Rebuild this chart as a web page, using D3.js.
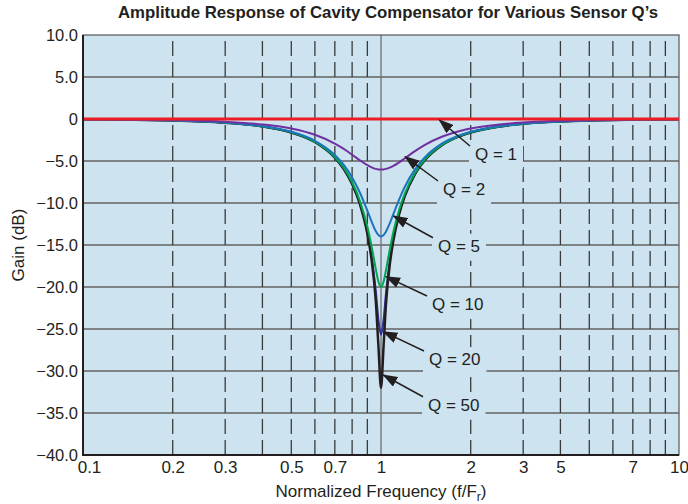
<!DOCTYPE html>
<html>
<head>
<meta charset="utf-8">
<script src="https://cdnjs.cloudflare.com/ajax/libs/d3/7.8.5/d3.min.js"></script>
<style>
    body { margin: 0; background: #fff; }
    svg { display: block; font-family: "Liberation Sans", Arial, sans-serif; }
</style>
</head>
<body>
<div id="chart"></div>
<script>
(function () {
    'use strict';

    // normalized frequency f/Fr at which the curves were read
    var freqs = [0.1, 0.2, 0.3, 0.4, 0.5, 0.6, 0.7, 0.75, 0.8, 0.85, 0.9, 0.93, 0.96, 0.98, 1,
        1.02, 1.04, 1.07, 1.1, 1.15, 1.2, 1.3, 1.4, 1.6, 1.8, 2, 2.5, 3, 4, 5, 7, 10];

    // gain (dB) for each sensor Q
    var gainQ1 = [0, 0, 0, 0, 0, 0, 0, 0, 0, 0, 0, 0, 0, 0, 0,
        0, 0, 0, 0, 0, 0, 0, 0, 0, 0, 0, 0, 0, 0, 0, 0, 0];
    var gainQ2 = [-0.03, -0.14, -0.33, -0.65, -1.14, -1.88, -2.92, -3.56, -4.25, -4.92, -5.50, -5.76, -5.94, -6.00, -6.02,
        -6.00, -5.94, -5.79, -5.59, -5.16, -4.70, -3.82, -3.10, -2.11, -1.51, -1.14, -0.65, -0.42, -0.22, -0.14, -0.07, -0.03];
    var gainQ5 = [-0.04, -0.18, -0.43, -0.85, -1.52, -2.59, -4.28, -5.47, -6.95, -8.78, -10.92, -12.23, -13.34, -13.81, -13.98,
        -13.82, -13.38, -12.42, -11.32, -9.59, -8.13, -6.00, -4.60, -2.94, -2.05, -1.52, -0.85, -0.55, -0.29, -0.18, -0.09, -0.04];
    var gainQ10 = [-0.04, -0.18, -0.44, -0.88, -1.58, -2.70, -4.52, -5.83, -7.53, -9.77, -12.82, -15.16, -17.81, -19.35, -20.0,
        -19.37, -17.94, -15.56, -13.49, -10.85, -8.95, -6.43, -4.86, -3.08, -2.14, -1.58, -0.88, -0.57, -0.30, -0.18, -0.09, -0.04];
    var gainQ20 = [-0.04, -0.18, -0.45, -0.89, -1.59, -2.73, -4.58, -5.92, -7.68, -10.06, -13.46, -16.36, -20.41, -23.85, -25.7,
        -23.91, -20.65, -16.89, -14.25, -11.24, -9.18, -6.54, -4.93, -3.11, -2.16, -1.59, -0.89, -0.57, -0.30, -0.18, -0.09, -0.04];
    var gainQ50 = [-0.04, -0.18, -0.45, -0.89, -1.60, -2.74, -4.60, -5.95, -7.73, -10.15, -13.66, -16.77, -21.54, -26.93, -32.0,
        -27.07, -21.86, -17.35, -14.49, -11.35, -9.25, -6.57, -4.95, -3.12, -2.16, -1.60, -0.89, -0.57, -0.30, -0.18, -0.09, -0.04];

    // axes
    var xTickVals = [0.1, 0.2, 0.3, 0.5, 0.7, 1, 2, 3, 4, 7, 10];
    var xTickLabels = ['0.1', '0.2', '0.3', '0.5', '0.7', '1', '2', '3', '5', '7', '10'];
    var xGridVals = [0.2, 0.3, 0.4, 0.5, 0.6, 0.7, 0.8, 0.9, 2, 3, 4, 5, 6, 7, 8, 9];
    var yTickVals = [10, 5, 0, -5, -10, -15, -20, -25, -30, -35, -40];

    // annotations (tip and text anchor in data units)
    var annoText = ['Q = 1', 'Q = 2', 'Q = 5', 'Q = 10', 'Q = 20', 'Q = 50'];
    var annoTipF = [1.569, 1.204, 1.101, 1.039, 1.018, 1.018];
    var annoTipDb = [-0.12, -4.49, -11.55, -18.77, -25.32, -30.48];
    var annoTextF = [2.067, 1.615, 1.553, 1.483, 1.449, 1.438];
    var annoTextDb = [-4.88, -9.05, -15.8, -22.74, -29.29, -34.73];

    var width = 688,
        height = 504,
        margin = {
            top: 35,
            right: 9,
            bottom: 49,
            left: 83
        },
        bg = '#cde3f0',
        ink = '#231f20';

    var svg = d3.select('#chart')
        .append('svg')
        .attr('width', width)
        .attr('height', height);

    var x = d3.scaleLog()
        .domain([0.1, 10])
        .range([margin.left, width - margin.right]);

    var y = d3.scaleLinear()
        .domain([-40, 10])
        .range([height - margin.bottom, margin.top]);

    svg.append('defs').append('marker')
        .attr('id', 'arrow')
        .attr('markerUnits', 'userSpaceOnUse')
        .attr('markerWidth', 15)
        .attr('markerHeight', 11)
        .attr('refX', 14)
        .attr('refY', 5.5)
        .attr('orient', 'auto')
        .append('path')
        .attr('d', 'M0,0 L15,5.5 L0,11 Z')
        .attr('fill', ink);

    // plot background
    svg.append('rect')
        .attr('x', x(0.1))
        .attr('y', y(10))
        .attr('width', x(10) - x(0.1))
        .attr('height', y(-40) - y(10))
        .attr('fill', bg);

    // horizontal grid
    svg.append('g')
        .selectAll('line')
        .data(yTickVals.slice(1, -1))
        .enter().append('line')
        .attr('x1', x(0.1)).attr('x2', x(10))
        .attr('y1', function (d) { return y(d); })
        .attr('y2', function (d) { return y(d); })
        .attr('stroke', '#626262')
        .attr('stroke-width', 1.5);

    // vertical dashed grid
    svg.append('g')
        .selectAll('line')
        .data(xGridVals)
        .enter().append('line')
        .attr('x1', function (d) { return x(d); })
        .attr('x2', function (d) { return x(d); })
        .attr('y1', y(-40)).attr('y2', y(10))
        .attr('stroke', '#3a3a3a')
        .attr('stroke-width', 1.3)
        .attr('stroke-dasharray', '15,6');

    svg.append('line')
        .attr('x1', x(1)).attr('x2', x(1))
        .attr('y1', y(-40)).attr('y2', y(10))
        .attr('stroke', '#707070')
        .attr('stroke-width', 1.3);

    // border
    svg.append('rect')
        .attr('x', x(0.1))
        .attr('y', y(10))
        .attr('width', x(10) - x(0.1))
        .attr('height', y(-40) - y(10))
        .attr('fill', 'none')
        .attr('stroke', '#555')
        .attr('stroke-width', 1.2);

    // curves, drawn so that the Q = 20 trace sits under the Q = 50 one
    var series = [
        { values: gainQ20, color: '#2e3192', w: 2 },
        { values: gainQ50, color: ink, w: 2.5 },
        { values: gainQ10, color: '#00a651', w: 2 },
        { values: gainQ5, color: '#1c75bc', w: 2 },
        { values: gainQ2, color: '#7030a0', w: 2 },
        { values: gainQ1, color: '#ed1c24', w: 3 }
    ];

    var line = d3.line()
        .x(function (d) { return x(d[0]); })
        .y(function (d) { return y(d[1]); })
        .curve(d3.curveMonotoneX);

    svg.append('g')
        .selectAll('path')
        .data(series)
        .enter().append('path')
        .attr('d', function (s) {
            return line(freqs.map(function (f, i) { return [f, s.values[i]]; }));
        })
        .attr('fill', 'none')
        .attr('stroke', function (s) { return s.color; })
        .attr('stroke-width', function (s) { return s.w; })
        .attr('stroke-linejoin', 'round');

    // axis lines
    svg.append('line')
        .attr('x1', x(0.1)).attr('x2', x(0.1))
        .attr('y1', y(10)).attr('y2', y(-40) + 1)
        .attr('stroke', ink).attr('stroke-width', 2);
    svg.append('line')
        .attr('x1', x(0.1) - 1).attr('x2', x(10))
        .attr('y1', y(-40)).attr('y2', y(-40))
        .attr('stroke', ink).attr('stroke-width', 2);

    // tick labels
    var xAxis = svg.append('g')
        .attr('transform', 'translate(0,' + y(-40) + ')')
        .call(d3.axisBottom(x)
            .tickValues(xTickVals)
            .tickSize(0)
            .tickPadding(6)
            .tickFormat(function (d, i) { return xTickLabels[i]; }));
    xAxis.select('.domain').remove();
    xAxis.selectAll('text')
        .attr('font-size', 17)
        .attr('font-family', null)
        .attr('fill', ink)
        .attr('dx', function (d, i) { return i === 0 ? 6 : 0; });

    var yAxis = svg.append('g')
        .attr('transform', 'translate(' + x(0.1) + ',0)')
        .call(d3.axisLeft(y)
            .tickValues(yTickVals)
            .tickSize(0)
            .tickPadding(5)
            .tickFormat(function (d) {
                return d === 0 ? '0' : d3.format('.1f')(d).replace('-', '\u2212');
            }));
    yAxis.select('.domain').remove();
    yAxis.selectAll('text')
        .attr('font-size', 16.5)
        .attr('font-family', null)
        .attr('fill', ink);

    // titles
    svg.append('text')
        .attr('x', 388)
        .attr('y', 18)
        .attr('text-anchor', 'middle')
        .attr('font-size', 16.5)
        .attr('font-weight', 'bold')
        .attr('fill', ink)
        .attr('textLength', 540)
        .attr('lengthAdjust', 'spacingAndGlyphs')
        .text('Amplitude Response of Cavity Compensator for Various Sensor Q\u2019s');

    var xTitle = svg.append('text')
        .attr('x', (x(0.1) + x(10)) / 2)
        .attr('y', 497)
        .attr('text-anchor', 'middle')
        .attr('font-size', 17)
        .attr('fill', ink)
        .text('Normalized Frequency (f/F');
    xTitle.append('tspan')
        .attr('font-size', 12)
        .attr('dy', 4)
        .text('r');
    xTitle.append('tspan')
        .attr('dy', -4)
        .text(')');

    svg.append('text')
        .attr('transform', 'translate(24,' + (y(10) + y(-40)) / 2 + ') rotate(-90)')
        .attr('text-anchor', 'middle')
        .attr('font-size', 17)
        .attr('fill', ink)
        .text('Gain (dB)');

    // annotations
    var anno = svg.append('g');
    annoText.forEach(function (t, i) {
        var tx = x(annoTextF[i]),
            ty = y(annoTextDb[i]);
        var g = anno.append('g');
        var rect = g.append('rect').attr('fill', bg);
        var label = g.append('text')
            .attr('x', tx)
            .attr('y', ty)
            .attr('font-size', 17)
            .attr('fill', ink)
            .text(t);
        var bb = label.node().getBBox();
        rect.attr('x', bb.x - 6)
            .attr('y', bb.y - 3)
            .attr('width', bb.width + 12)
            .attr('height', bb.height + 8);
        g.append('line')
            .attr('x1', tx - 5)
            .attr('y1', ty - 14)
            .attr('x2', x(annoTipF[i]))
            .attr('y2', y(annoTipDb[i]))
            .attr('stroke', ink)
            .attr('stroke-width', 1.5)
            .attr('marker-end', 'url(#arrow)');
    });
})();
</script>
</body>
</html>
